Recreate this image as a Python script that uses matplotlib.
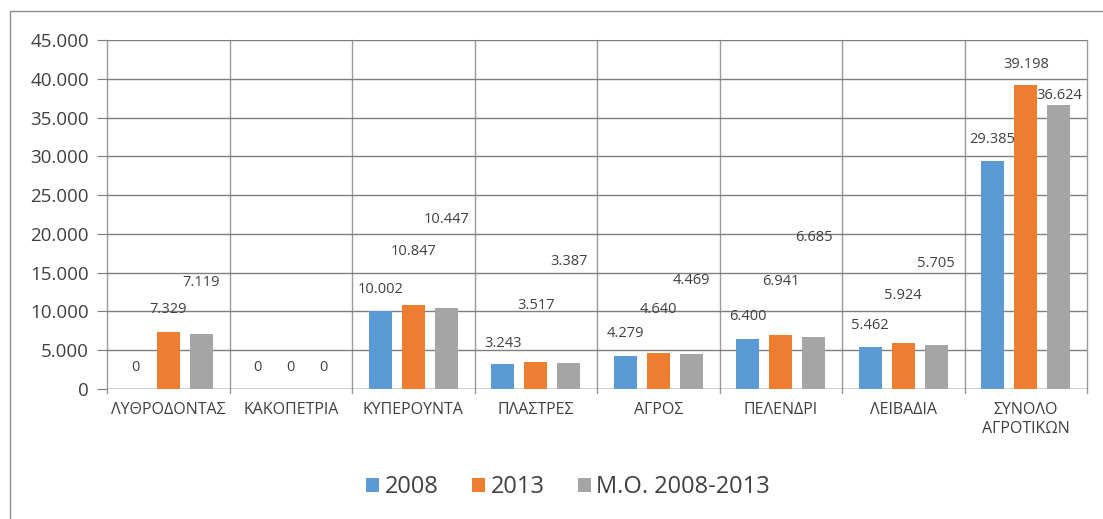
import matplotlib.pyplot as plt
import numpy as np
from matplotlib.patches import Rectangle

plt.rcParams['font.family'] = ['Open Sans', 'DejaVu Sans']

perioxes = ["ΛΥΘΡΟΔΟΝΤΑΣ", "ΚΑΚΟΠΕΤΡΙΑ", "ΚΥΠΕΡΟΥΝΤΑ", "ΠΛΑΣΤΡΕΣ",
            "ΑΓΡΟΣ", "ΠΕΛΕΝΔΡΙ", "ΛΕΙΒΑΔΙΑ", "ΣΥΝΟΛΟ\nΑΓΡΟΤΙΚΩΝ"]
seires = ["2008", "2013", "Μ.Ο. 2008-2013"]
v2008 = [0, 0, 10002, 3243, 4279, 6400, 5462, 29385]
v2013 = [7329, 0, 10847, 3517, 4640, 6941, 5924, 39198]
vmo = [7119, 0, 10447, 3387, 4469, 6685, 5705, 36624]
# ύψος ετικετών όπως φαίνονται στο αρχικό γράφημα (μετατοπισμένες)
y_2008 = [2800, 2800, 12800, 5900, 7100, 9300, 8250, 32200]
y_2013 = [10200, 2800, 17700, 10800, 10200, 13800, 12100, 41900]
y_mo = [13700, 2800, 21800, 16400, 14000, 19500, 16200, 37900]

xrwmata = ["#5B9BD5", "#ED7D31", "#A5A5A5"]

fig = plt.figure(figsize=(11.03, 5.19), dpi=100)
ax = fig.add_axes([107 / 1103, 1 - 389 / 519, 980 / 1103, 349 / 519])

# πλαίσιο γύρω από το γράφημα
fig.patches.append(Rectangle((10 / 1103, -0.01), 1.1, 1 - 11 / 519 + 0.01,
                             transform=fig.transFigure, fill=False,
                             edgecolor="#8c8c8c", linewidth=1))

x = np.arange(len(perioxes))
platos = 0.19
apostasi = 0.27
for i, (vals, ys) in enumerate(zip([v2008, v2013, vmo], [y_2008, y_2013, y_mo])):
    xs = x + (i - 1) * apostasi
    ax.bar(xs, vals, platos, color=xrwmata[i], label=seires[i], zorder=3)
    for xx, v, yy in zip(xs, vals, ys):
        ax.text(xx, yy, f"{v:,}".replace(",", "."), ha="center", va="center",
                fontsize=10.5, color="#404040", zorder=4)

ax.set_xlim(-0.5, len(perioxes) - 0.5)
ax.set_ylim(0, 45000)
ax.set_yticks(range(0, 45001, 5000))
ax.set_yticklabels([f"{v:,}".replace(",", ".") for v in range(0, 45001, 5000)],
                   fontsize=13.5, color="#404040")
ax.set_xticks(x)
ax.set_xticklabels(perioxes, fontsize=11.5, color="#404040", linespacing=1.3)
ax.tick_params(axis="x", length=0, pad=9)
ax.tick_params(axis="y", length=7, color="#7f7f7f", pad=6)

ax.grid(axis="y", color="#7f7f7f", linewidth=1, zorder=0)
for b in np.arange(-0.5, len(perioxes) + 0.5, 1):
    ax.axvline(b, ymin=-0.012, ymax=1, color="#9a9a9a", linewidth=1,
               clip_on=False, zorder=1)
for s in ax.spines.values():
    s.set_visible(False)
ax.axhline(0, color="#7f7f7f", linewidth=1, zorder=2)

fig.legend(loc="center", bbox_to_anchor=(0.515, 1 - 487 / 519), ncol=3,
           frameon=False, fontsize=17, handlelength=0.55, handleheight=0.55,
           handletextpad=0.25, columnspacing=1.4, labelcolor="#404040")

plt.savefig("out.png", dpi=100)
